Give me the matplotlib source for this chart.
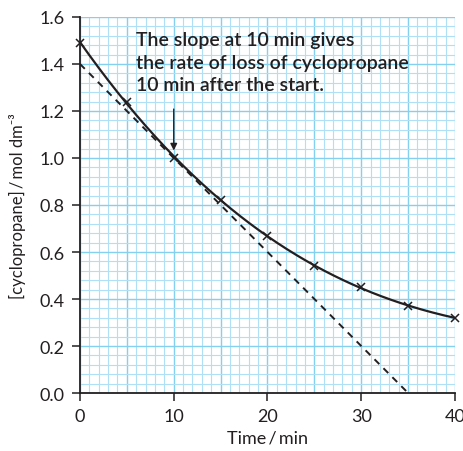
import numpy as np
import matplotlib.pyplot as plt

# measured concentrations
time_min = [0, 5, 10, 15, 20, 25, 30, 35, 40]
conc = [1.49, 1.24, 1.00, 0.82, 0.67, 0.54, 0.45, 0.37, 0.32]

# tangent drawn at t = 10 min
tangent_t = [0, 35]
tangent_c = [1.40, 0.0]

y_ticks = [0.0, 0.2, 0.4, 0.6, 0.8, 1.0, 1.2, 1.4, 1.6]
x_ticks = [0, 10, 20, 30, 40]

note = "The slope at 10 min gives\nthe rate of loss of cyclopropane\n10 min after the start."

plt.rcParams['font.family'] = ['Lato', 'DejaVu Sans']
ink = '#231f20'

fig = plt.figure(figsize=(4.64, 4.52), dpi=100)
ax = fig.add_axes([0.1724, 0.1283, 0.8082, 0.8319])

ax.set_xlim(0, 40)
ax.set_ylim(0, 1.6)

# graph paper
for v in np.arange(0, 40.01, 1):
    ax.axvline(v, color='#86d0ef' if v % 5 == 0 else '#b0e0f5', lw=1.0 if v % 5 == 0 else 0.8, zorder=0)
for v in np.arange(0, 1.601, 0.04):
    major = abs(v / 0.2 - round(v / 0.2)) < 1e-6
    ax.axhline(v, color='#86d0ef' if major else '#b0e0f5', lw=1.0 if major else 0.8, zorder=0)

# smooth curve through the points
coef = np.polyfit(time_min, conc, 3)
tt = np.linspace(0, 40, 200)
ax.plot(tt, np.polyval(coef, tt), color=ink, lw=1.6, zorder=3)
ax.plot(time_min, conc, 'x', color=ink, ms=6, mew=1.1, zorder=4, clip_on=False)

ax.plot(tangent_t, tangent_c, color=ink, lw=1.4, ls=(0, (3.5, 3)), zorder=2)

ax.annotate('', xy=(10, 1.02), xytext=(10, 1.22),
            arrowprops=dict(arrowstyle='-|>', color=ink, lw=1.0, mutation_scale=10))
ax.text(6.0, 1.54, note, fontsize=14, color=ink, va='top', ha='left',
        linespacing=1.4, fontweight='semibold')

for s in ['top', 'right']:
    ax.spines[s].set_visible(False)
for s in ['left', 'bottom']:
    ax.spines[s].set_color(ink)
    ax.spines[s].set_linewidth(1.3)
    ax.spines[s].set_zorder(5)

ax.set_xticks(x_ticks)
ax.set_yticks(y_ticks)
ax.set_yticklabels([f'{v:.1f}' for v in y_ticks])
ax.tick_params(which='major', direction='out', length=6, width=1.1, color=ink,
               labelsize=13, labelcolor=ink, pad=5)

ax.set_xlabel('Time\u2009/\u2009min', fontsize=13, color=ink, labelpad=4)
ax.set_ylabel('[cyclopropane]\u2009/\u2009mol dm\u207b\u00b3', fontsize=12, color=ink, labelpad=10)

fig.savefig('out.png', dpi=100)
